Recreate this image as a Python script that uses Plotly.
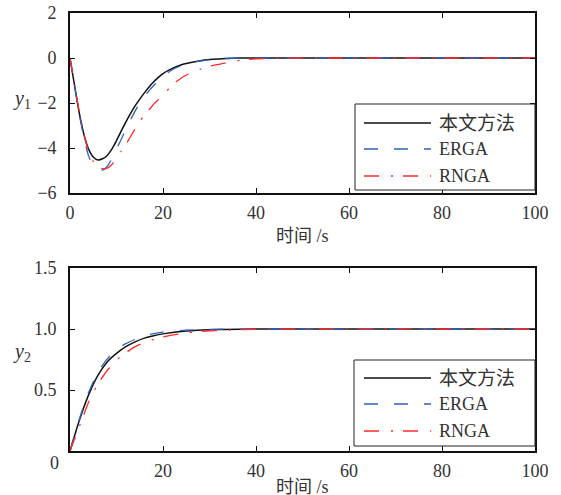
import plotly.graph_objects as go

# ---------------- data ----------------
t1 = [0, 1, 2, 3, 4, 5, 6, 7, 8, 9, 10, 11, 12, 13, 14, 15, 16, 17, 18, 19, 20, 22, 24, 26, 28, 30, 32, 35, 38,
      40, 45, 50, 60, 80, 100]
y1_proposed = [0, -1.25, -2.45, -3.4, -4.05, -4.4, -4.53, -4.48, -4.33, -4.05, -3.67, -3.25, -2.85, -2.47, -2.13,
               -1.83, -1.55, -1.29, -1.06, -0.86, -0.69, -0.46, -0.3, -0.2, -0.12, -0.07, -0.04, -0.01, 0,
               0, 0, 0, 0, 0, 0]
y1_erga = [0, -1.25, -2.5, -3.55, -4.35, -4.78, -4.95, -4.98, -4.82, -4.47, -4.05, -3.62, -3.18, -2.76, -2.36,
           -2.0, -1.72, -1.45, -1.22, -1.0, -0.82, -0.52, -0.33, -0.21, -0.13, -0.08, -0.04, -0.01, 0,
           0, 0, 0, 0, 0, 0]
y1_rnga = [0, -1.2, -2.4, -3.4, -4.15, -4.6, -4.83, -4.92, -4.9, -4.73, -4.45, -4.15, -3.85, -3.5, -3.15,
           -2.82, -2.55, -2.3, -2.05, -1.85, -1.65, -1.2, -0.88, -0.66, -0.5, -0.37, -0.28, -0.15, -0.07,
           -0.04, -0.01, 0, 0, 0, 0]

t2 = [0, 2, 4, 6, 8, 10, 12, 14, 16, 18, 20, 25, 30, 40, 50, 100]
y2_proposed = [0, 0.25, 0.46, 0.62, 0.73, 0.80, 0.855, 0.895, 0.925, 0.945, 0.96, 0.983, 0.994, 1.0, 1.0, 1.0]
y2_erga = [0, 0.26, 0.48, 0.645, 0.755, 0.83, 0.88, 0.915, 0.945, 0.962, 0.975, 0.99, 0.997, 1.0, 1.0, 1.0]
y2_rnga = [0, 0.20, 0.40, 0.55, 0.66, 0.745, 0.805, 0.855, 0.89, 0.915, 0.935, 0.968, 0.985, 0.998, 1.0, 1.0]

series_names = ["本文方法", "ERGA", "RNGA"]
x_ticks_top = [0, 20, 40, 60, 80, 100]
x_ticks_bottom = [20, 40, 60, 80, 100]
y_ticks_top = [2, 0, -2, -4, -6]
y_ticks_top_text = ["2", "0", "\u22122", "\u22124", "\u22126"]
y_ticks_bottom = [0.5, 1.0, 1.5]
y_ticks_bottom_text = ["0.5", "1.0", "1.5"]

# ---------------- style ----------------
W, H = 561, 495
FONT = "'Liberation Serif', 'Noto Sans CJK SC', serif"
TXT = "#333333"
BLACK = "#111111"
BLUE = "#2f62b8"
RED = "#ff2a2a"
styles = [
    dict(color=BLACK, width=1.5, dash="solid"),
    dict(color=BLUE, width=1.3, dash="14px,16px"),
    dict(color=RED, width=1.3, dash="15px,12px,2px,10px"),
]


def px(x):
    return x / W


def py(y):
    return 1 - y / H


fig = go.Figure()

for data_t, ys, xa, ya in [(t1, [y1_proposed, y1_erga, y1_rnga], "x", "y"),
                           (t2, [y2_proposed, y2_erga, y2_rnga], "x2", "y2")]:
    for name, yv, st in zip(series_names, ys, styles):
        fig.add_trace(go.Scatter(x=data_t, y=yv, mode="lines", name=name, showlegend=False,
                                 line=dict(shape="spline", smoothing=0.6, **st), xaxis=xa, yaxis=ya))

axis_common = dict(showline=True, linecolor=BLACK, linewidth=1.6, mirror="ticks", ticks="inside",
                   ticklen=5, tickcolor=BLACK, tickwidth=1, showgrid=False, zeroline=False,
                   automargin=False,
                   tickfont=dict(family=FONT, size=18, color=TXT))

fig.update_layout(
    width=W, height=H, margin=dict(l=0, r=0, t=0, b=0, autoexpand=False),
    paper_bgcolor="white", plot_bgcolor="white",
    xaxis=dict(domain=[px(70), px(535)], anchor="y", range=[0, 100], tickvals=x_ticks_top,
               ticklabelstandoff=3, **axis_common),
    yaxis=dict(domain=[py(193), py(13)], anchor="x", range=[-6, 2], tickvals=y_ticks_top,
               ticktext=y_ticks_top_text, ticklabelstandoff=8, **axis_common),
    xaxis2=dict(domain=[px(70), px(535)], anchor="y2", range=[0, 100], tickvals=x_ticks_bottom,
                ticklabelstandoff=3, **axis_common),
    yaxis2=dict(domain=[py(451), py(268)], anchor="x2", range=[0, 1.5], tickvals=y_ticks_bottom,
                ticktext=y_ticks_bottom_text, ticklabelstandoff=8, **axis_common),
)

annotations = []
shapes = []

# axis titles
for yy in [236, 487]:
    annotations.append(dict(x=px(302), y=py(yy), xref="paper", yref="paper", text="时间 /s",
                            showarrow=False, font=dict(family=FONT, size=18, color=TXT),
                            xanchor="center", yanchor="middle"))
for yy, sub in [(100, "1"), (352, "2")]:
    annotations.append(dict(x=px(22), y=py(yy), xref="paper", yref="paper",
                            text="<i>y</i><sub>%s</sub>" % sub, showarrow=False,
                            font=dict(family=FONT, size=20, color=TXT), xanchor="center", yanchor="middle"))
# stray "0" label of the lower panel
annotations.append(dict(x=px(54), y=py(463), xref="paper", yref="paper", text="0", showarrow=False,
                        font=dict(family=FONT, size=18, color=TXT), xanchor="center", yanchor="middle"))

# legends
for (bx0, by0, bx1, by1, rows) in [(355, 104, 535, 190, [123, 149, 176]),
                                   (354, 360, 535, 446, [378, 404, 431])]:
    shapes.append(dict(type="rect", xref="paper", yref="paper", x0=px(bx0), x1=px(bx1), y0=py(by0), y1=py(by1),
                       line=dict(color="#222222", width=1), fillcolor="white", layer="above"))
    for name, st, ry in zip(series_names, styles, rows):
        shapes.append(dict(type="line", xref="paper", yref="paper", x0=px(364), x1=px(431), y0=py(ry), y1=py(ry),
                           line=dict(color=st["color"], width=st["width"], dash=st["dash"]), layer="above"))
        annotations.append(dict(x=px(437), y=py(ry), xref="paper", yref="paper", text=name, showarrow=False,
                                font=dict(family=FONT, size=19 if name == "本文方法" else 18, color=TXT),
                                xanchor="left", yanchor="middle"))

fig.update_layout(annotations=annotations, shapes=shapes)
fig.write_html("out.html")
